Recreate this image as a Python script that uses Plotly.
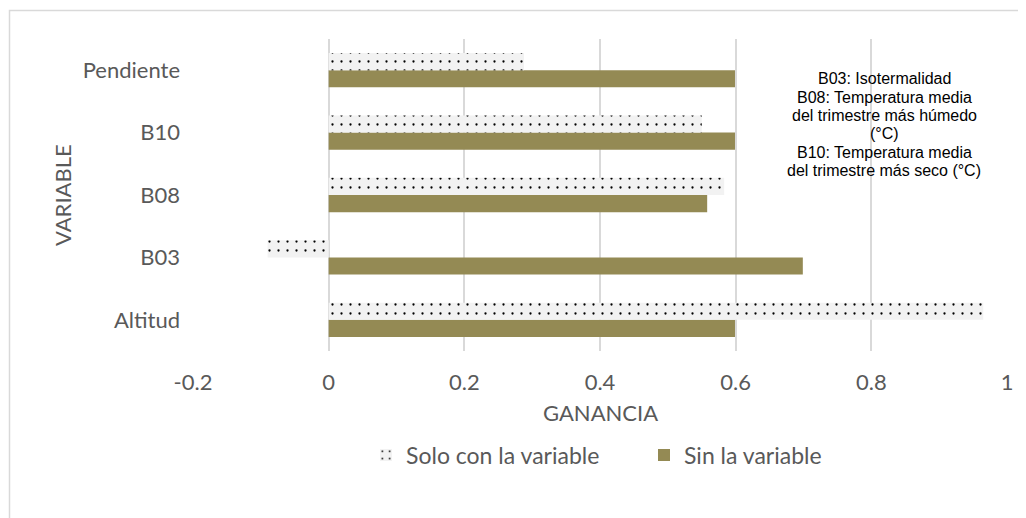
import plotly.graph_objects as go

categories = ["Altitud", "B03", "B08", "B10", "Pendiente"]
solo_con = [0.965, -0.09, 0.583, 0.550, 0.288]
sin_var = [0.599, 0.699, 0.558, 0.599, 0.599]
x_ticks = [-0.2, 0, 0.2, 0.4, 0.6, 0.8, 1]
x_tick_text = ["-0.2", "0", "0.2", "0.4", "0.6", "0.8", "1"]
note_lines = ["B03: Isotermalidad", "B08: Temperatura media", "del trimestre más húmedo",
              "(°C)", "B10: Temperatura media", "del trimestre más seco (°C)"]

OFF = 8  # page body margin
W, H = 1026 - OFF, 518 - OFF
ml = 193 - OFF
mt = 39 - OFF
plot_right = 1007 - OFF
plot_bottom = 351 - OFF
mr = W - plot_right
mb = H - plot_bottom
pw, ph = W - ml - mr, H - mt - mb

def px2x(p):
    return (p - OFF - ml) / pw

def px2y(p):
    return (plot_bottom - (p - OFF)) / ph

fig = go.Figure()
fig.add_trace(go.Bar(
    y=categories, x=sin_var, orientation="h", name="Sin la variable",
    marker=dict(color="#948A54", line=dict(width=0)), legendrank=2,
))
fig.add_trace(go.Bar(
    y=categories, x=solo_con, orientation="h", name="Solo con la variable",
    marker=dict(color="#F2F2F2", line=dict(width=0),
                pattern=dict(shape=".", fgcolor="#000000", bgcolor="#F2F2F2",
                             size=9, solidity=0.05, fillmode="replace")),
    legendrank=1,
))

tick_font = dict(family="Lato, 'Open Sans', sans-serif", size=22, color="#595959")
legend_font = dict(family="Lato, 'Open Sans', sans-serif", size=23, color="#595959")

fig.update_layout(
    width=W, height=H,
    margin=dict(l=ml, r=mr, t=mt, b=mb, autoexpand=False),
    paper_bgcolor="white", plot_bgcolor="white",
    barmode="group", bargap=0.45, bargroupgap=0,
    font=tick_font,
    xaxis=dict(range=[-0.2, 1], tickvals=x_ticks, ticktext=x_tick_text,
               showgrid=True, gridcolor="#D9D9D9", gridwidth=1.5,
               zeroline=True, zerolinecolor="#D9D9D9", zerolinewidth=1.5,
               showline=False, ticks="", tickfont=tick_font, automargin=False,
               ticklabelstandoff=16),
    yaxis=dict(categoryorder="array", categoryarray=categories,
               showgrid=False, showline=False, ticks="", ticklabelstandoff=12,
               tickfont=tick_font, automargin=False),
    legend=dict(orientation="h", x=px2x(644), xanchor="center", y=px2y(455), yanchor="middle",
                font=legend_font, traceorder="normal", entrywidth=233, entrywidthmode="pixels"),
    showlegend=True,
)

# axis titles
fig.add_annotation(xref="paper", yref="paper", x=px2x(600), y=px2y(412),
                   xanchor="center", yanchor="middle", text="GANANCIA",
                   showarrow=False, font=tick_font)
fig.add_annotation(xref="paper", yref="paper", x=px2x(62), y=px2y(195),
                   xanchor="center", yanchor="middle", text="VARIABLE", textangle=-90,
                   showarrow=False, font=tick_font)

line_h = 18.4
for i, t in enumerate(note_lines):
    fig.add_annotation(
        xref="paper", yref="paper", x=px2x(884), y=px2y(78.7 + i * line_h),
        xanchor="center", yanchor="middle", text=t, showarrow=False,
        font=dict(family="'Liberation Sans', Arial, sans-serif", size=16, color="#000000"),
    )

fig.add_shape(type="rect", xref="paper", yref="paper",
              x0=px2x(9.5), x1=px2x(1040), y0=px2y(540), y1=px2y(10.5),
              line=dict(color="#D9D9D9", width=1.5), fillcolor="rgba(0,0,0,0)", layer="below")

fig.write_html("out.html")
